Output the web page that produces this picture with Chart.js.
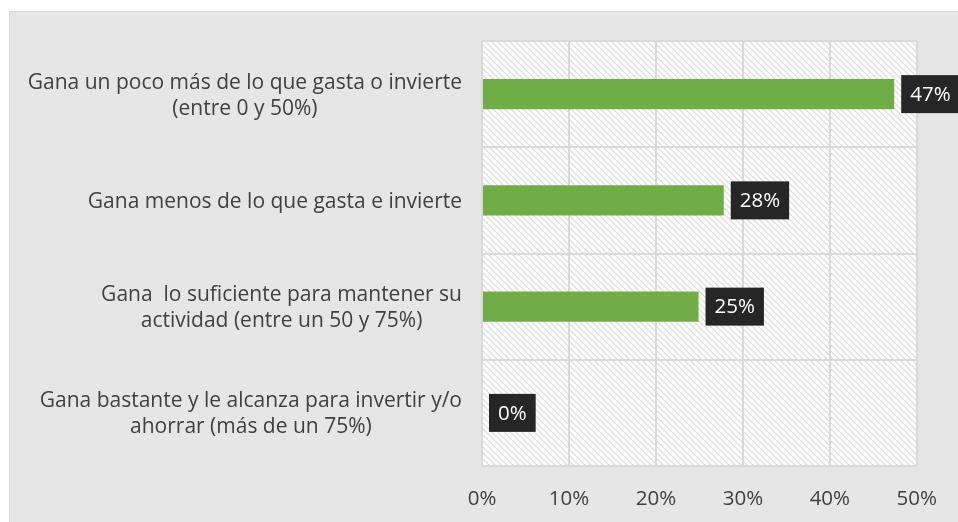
<!DOCTYPE html>
<html>
<head>
<meta charset="utf-8">
<script src="https://cdn.jsdelivr.net/npm/chart.js@4.4.0/dist/chart.umd.min.js"></script>
<style>
  html, body { margin: 0; padding: 0; background: #ffffff; }
  #wrap { width: 958px; height: 522px; }
</style>
</head>
<body>
<div id="wrap"><canvas id="grafico" width="958" height="522"></canvas></div>
<script>
// Datos del grafico
const categorias = [
  ['Gana un poco más de lo que gasta o invierte', '(entre 0 y 50%)'],
  ['Gana menos de lo que gasta e invierte'],
  ['Gana  lo suficiente para mantener su', 'actividad (entre un 50 y 75%)'],
  ['Gana bastante y le alcanza para invertir y/o', 'ahorrar (más de un 75%)']
];
const valores = [47.4, 27.8, 24.9, 0];
const ticksX = [0, 10, 20, 30, 40, 50];

const fuente = "'Open Sans', sans-serif";

// patron rayado del area de trazado
function crearRayado() {
  const c = document.createElement('canvas');
  c.width = 6; c.height = 6;
  const g = c.getContext('2d');
  g.fillStyle = '#ffffff';
  g.fillRect(0, 0, 6, 6);
  g.strokeStyle = '#dadada';
  g.lineWidth = 1.2;
  g.beginPath();
  g.moveTo(0, 0); g.lineTo(6, 6);
  g.moveTo(-3, 3); g.lineTo(3, 9);
  g.moveTo(3, -3); g.lineTo(9, 3);
  g.stroke();
  return g.createPattern(c, 'repeat');
}

const fondo = {
  id: 'fondo',
  beforeDraw(chart) {
    const ctx = chart.ctx, a = chart.chartArea;
    ctx.save();
    ctx.fillStyle = '#ffffff';
    ctx.fillRect(0, 0, chart.width, chart.height);
    ctx.fillStyle = '#e6e6e6';
    ctx.fillRect(9, 11, chart.width - 9, chart.height - 11);
    ctx.strokeStyle = '#d9d9d9';
    ctx.lineWidth = 1;
    ctx.strokeRect(9.5, 11.5, chart.width, chart.height);
    ctx.fillStyle = crearRayado();
    ctx.fillRect(a.left, a.top, a.right - a.left, a.bottom - a.top);
    ctx.restore();
  }
};

// categorias centradas linea por linea (como en Excel)
const nombres = {
  id: 'nombres',
  afterDraw(chart) {
    const ctx = chart.ctx, ey = chart.scales.y;
    const derecha = chart.chartArea.left - 20;
    ctx.save();
    ctx.font = '21px ' + fuente;
    ctx.fillStyle = '#404040';
    ctx.textAlign = 'center';
    ctx.textBaseline = 'middle';
    categorias.forEach((lineas, i) => {
      const yc = ey.getPixelForValue(i) + 1.5;
      const ancho = Math.max(...lineas.map(l => ctx.measureText(l).width));
      const xc = derecha - ancho / 2;
      const lh = 26;
      lineas.forEach((l, j) => {
        ctx.fillText(l, xc, yc + (j - (lineas.length - 1) / 2) * lh);
      });
    });
    ctx.restore();
  }
};

// etiquetas con caja oscura
const etiquetas = {
  id: 'etiquetas',
  afterDatasetsDraw(chart) {
    const ctx = chart.ctx;
    const meta = chart.getDatasetMeta(0);
    ctx.save();
    ctx.font = '20.5px ' + fuente;
    ctx.textBaseline = 'middle';
    meta.data.forEach((bar, i) => {
      const txt = Math.round(valores[i]) + '%';
      const w = ctx.measureText(txt).width + 18;
      const h = 38;
      const x = bar.x + 7;
      const y = bar.y - h / 2;
      ctx.fillStyle = '#262626';
      ctx.fillRect(x, y, w, h);
      ctx.fillStyle = '#ffffff';
      ctx.textAlign = 'left';
      ctx.fillText(txt, x + 9, bar.y + 1);
    });
    ctx.restore();
  }
};

new Chart(document.getElementById('grafico'), {
  type: 'bar',
  data: {
    labels: categorias,
    datasets: [{
      data: valores,
      backgroundColor: '#70ad47',
      borderWidth: 0,
      barPercentage: 0.285,
      categoryPercentage: 1
    }]
  },
  plugins: [fondo, nombres, etiquetas],
  options: {
    indexAxis: 'y',
    responsive: false,
    animation: false,
    devicePixelRatio: 1,
    layout: { padding: { top: 41, right: 39, left: 0, bottom: 0 } },
    plugins: { legend: { display: false }, tooltip: { enabled: false } },
    scales: {
      x: {
        min: 0, max: 50,
        afterBuildTicks(ax) { ax.ticks = ticksX.map(v => ({ value: v })); },
        afterFit(ax) { ax.height = 56; },
        grid: { color: '#d9d9d9', lineWidth: 2, drawTicks: false },
        border: { display: false },
        ticks: {
          padding: 21,
          color: '#404040',
          font: { family: fuente, size: 20.5 },
          callback: v => v + '%'
        }
      },
      y: {
        afterFit(ax) { ax.width = 482; },
        grid: { color: '#d9d9d9', lineWidth: 2, drawTicks: false, offset: true },
        border: { display: false },
        ticks: { display: false }
      }
    }
  }
});
</script>
</body>
</html>
